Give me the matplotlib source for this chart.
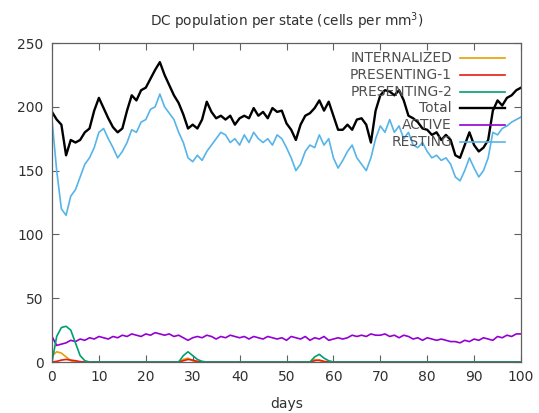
import matplotlib
matplotlib.use("Agg")
import matplotlib.pyplot as plt
import numpy as np

# days sampled once per day
days = np.arange(0, 101)

total = [196, 190, 186, 162, 174, 172, 174, 180, 183, 197,
         207, 199, 191, 184, 180, 183, 197, 209, 205, 213,
         215, 222, 229, 235, 225, 217, 209, 203, 194, 183,
         186, 183, 190, 204, 196, 191, 193, 190, 193, 186,
         191, 193, 191, 199, 193, 196, 191, 199, 196, 197,
         187, 182, 174, 186, 193, 195, 199, 205, 197, 204,
         193, 182, 182, 186, 182, 190, 191, 186, 172, 197,
         209, 213, 212, 209, 213, 205, 193, 191, 188, 183,
         182, 178, 180, 174, 178, 174, 162, 160, 170, 180,
         170, 165, 168, 174, 197, 205, 201, 207, 209, 213,
         215]

resting = [190, 150, 120, 115, 130, 135, 145, 155, 160, 168,
           180, 183, 175, 168, 160, 165, 172, 182, 180, 188,
           190, 198, 200, 210, 200, 195, 190, 180, 172, 160,
           157, 162, 158, 165, 170, 175, 180, 178, 172, 175,
           170, 178, 172, 180, 175, 172, 175, 170, 178, 175,
           168, 160, 150, 155, 165, 170, 168, 178, 170, 175,
           160, 152, 158, 165, 170, 160, 155, 150, 160, 175,
           185, 180, 190, 180, 185, 175, 180, 170, 168, 172,
           165, 160, 162, 158, 160, 155, 145, 142, 150, 160,
           152, 145, 150, 160, 180, 178, 183, 185, 188, 190,
           192]

active = [20, 13, 14, 15, 17, 16, 18, 17, 19, 18,
          20, 19, 18, 20, 19, 21, 20, 22, 21, 20,
          22, 21, 23, 22, 21, 22, 20, 21, 19, 17,
          19, 20, 19, 21, 20, 18, 20, 19, 21, 20,
          19, 20, 18, 20, 19, 18, 20, 19, 18, 19,
          17, 20, 19, 18, 20, 17, 19, 18, 20, 17,
          18, 19, 18, 19, 21, 20, 21, 20, 22, 21,
          21, 22, 20, 21, 19, 21, 20, 18, 19, 17,
          19, 18, 17, 18, 17, 16, 16, 15, 17, 16,
          18, 17, 19, 18, 17, 20, 19, 21, 20, 22,
          22]

presenting2 = np.zeros(101)
presenting2[:9] = [0, 20, 27, 28, 25, 15, 5, 1, 0]
presenting2[27:33] = [0, 5, 8, 5, 2, 0.5]
presenting2[55:60] = [0, 4, 6, 3, 1]

presenting1 = np.zeros(101)
presenting1[1:7] = [0.5, 1.5, 2, 1.5, 1, 0.3]
presenting1[28:32] = [1, 2, 1.5, 0.5]
presenting1[56:59] = [1, 1.5, 0.5]

internalized = np.zeros(101)
internalized[:6] = [5, 8, 7, 4, 1, 0]
internalized[28:31] = [2, 3, 1]
internalized[56:58] = [2, 1]

labels = ["INTERNALIZED", "PRESENTING-1", "PRESENTING-2", "Total", "ACTIVE", "RESTING"]
colors = ["#e69f00", "#e51e10", "#009e73", "black", "#9400d3", "#56b4e9"]
series = [internalized, presenting1, presenting2, total, active, resting]

fig = plt.figure(figsize=(5.39, 4.13), dpi=100)
ax = fig.add_axes([52 / 539, 51 / 413, 469 / 539, 319 / 413])

# draw order: resting/active underneath, total on top
order = [5, 4, 0, 1, 2, 3]
for i in order:
    lw = 1.7 if labels[i] == "Total" else 1.2
    ax.plot(days, series[i], color=colors[i], lw=lw)

# gnuplot-style legend: right-aligned label then line sample
for k, (lab, col) in enumerate(zip(labels, colors)):
    yy = 0.953 - k * 0.0527
    ax.text(0.853, yy, lab, transform=ax.transAxes, ha="right", va="center",
            fontsize=10, color="#505050")
    ax.plot([0.870, 0.966], [yy, yy], transform=ax.transAxes, color=col,
            lw=1.7 if lab == "Total" else 1.2, clip_on=False)

ax.set_xlim(0, 100)
ax.set_ylim(0, 250)
ax.set_xticks(range(0, 101, 10))
ax.set_yticks(range(0, 251, 50))
ax.tick_params(direction="in", top=True, right=True, length=5, width=0.8,
               color="#606060", labelsize=10, labelcolor="#303030", pad=6)
for s in ax.spines.values():
    s.set_color("#606060")
    s.set_linewidth(0.9)

ax.set_title("DC population per state (cells per mm$^3$)", fontsize=9.8,
             color="#303030", pad=12)
ax.set_xlabel("days", fontsize=10, color="#303030", labelpad=9)

fig.savefig("out.png", dpi=100)
